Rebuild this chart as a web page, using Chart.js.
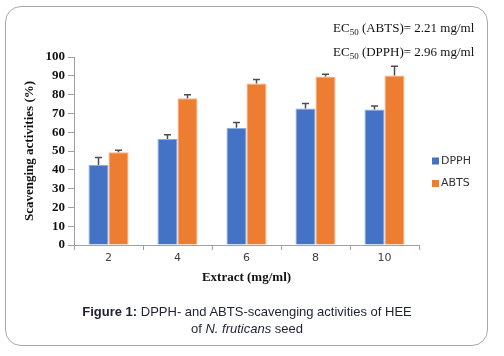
<!DOCTYPE html>
<html>
<head>
<meta charset="utf-8">
<script src="https://cdn.jsdelivr.net/npm/chart.js@4/dist/chart.umd.min.js"></script>
<style>
  html, body { margin: 0; padding: 0; background: #fff; }
  #wrap { position: relative; width: 504px; height: 356px; overflow: hidden; }
  #frame { position: absolute; left: 5px; top: 6px; width: 483px; height: 340px; border: 1px solid #a8a8a8; border-radius: 16px; box-sizing: border-box; }
  canvas { position: absolute; left: 0; top: 0; }
  .ec { position: absolute; left: 333px; font-family: "Liberation Serif", "Times New Roman", serif; font-size: 13px; color: #111; white-space: nowrap; line-height: 16px; }
  .ec sub { font-size: 9px; vertical-align: -3px; line-height: 0; }
  #caption { position: absolute; left: 0; width: 494px; top: 303px; text-align: center; font-family: "Liberation Sans", Arial, sans-serif; font-size: 13px; line-height: 17px; color: #1d2230; }
</style>
</head>
<body>
<div id="wrap">
  <canvas id="c" width="504" height="356"></canvas>
  <div id="frame"></div>
  <div class="ec" style="top:20px">EC<sub>50</sub> (ABTS)= 2.21 mg/ml</div>
  <div class="ec" style="top:44px">EC<sub>50</sub> (DPPH)= 2.96 mg/ml</div>
  <div id="caption"><b>Figure 1:</b> DPPH- and ABTS-scavenging activities of HEE<br>of <i>N. fruticans</i> seed</div>
</div>
<script>
const categories = ["2", "4", "6", "8", "10"];
const dpphValues = [42.5, 56.4, 62.4, 72.6, 72.1];
const abtsValues = [49.3, 78.1, 85.9, 89.6, 90.1];
const dpphErrors = [4.1, 2.3, 2.8, 2.7, 1.8];
const abtsErrors = [1.1, 1.8, 2.1, 1.2, 5.0];
const yTicks = [0, 10, 20, 30, 40, 50, 60, 70, 80, 90, 100];

const errorBars = {
  id: 'errorBars',
  afterDatasetsDraw(chart) {
    const ctx = chart.ctx;
    const yScale = chart.scales.y;
    ctx.save();
    ctx.strokeStyle = '#4d4d4d';
    ctx.lineWidth = 1.5;
    chart.data.datasets.forEach((ds, di) => {
      const meta = chart.getDatasetMeta(di);
      meta.data.forEach((bar, i) => {
        const v = ds.data[i];
        const e = ds.errors[i];
        const yTop = yScale.getPixelForValue(v + e);
        const yBar = yScale.getPixelForValue(v);
        ctx.beginPath();
        ctx.moveTo(bar.x, yBar);
        ctx.lineTo(bar.x, yTop);
        ctx.moveTo(bar.x - 3.5, yTop);
        ctx.lineTo(bar.x + 3.5, yTop);
        ctx.stroke();
      });
    });
    ctx.restore();
  }
};

const sideLegend = {
  id: 'sideLegend',
  afterDraw(chart) {
    const ctx = chart.ctx;
    ctx.save();
    ctx.font = '11px "DejaVu Sans", Verdana, sans-serif';
    ctx.textBaseline = 'middle';
    const ys = [160.5, 183];
    chart.data.datasets.forEach((ds, i) => {
      ctx.fillStyle = ds.backgroundColor;
      ctx.fillRect(432, ys[i] - 3, 7, 7);
      ctx.fillStyle = '#333';
      ctx.fillText(ds.label, 441, ys[i] + 0.5);
    });
    ctx.restore();
  }
};

new Chart(document.getElementById('c'), {
  type: 'bar',
  data: {
    labels: categories,
    datasets: [
      { label: 'DPPH', data: dpphValues, errors: dpphErrors, backgroundColor: '#4472C4', borderColor: '#8faadc', borderWidth: 1 },
      { label: 'ABTS', data: abtsValues, errors: abtsErrors, backgroundColor: '#ED7D31', borderColor: '#f4b183', borderWidth: 1 }
    ]
  },
  options: {
    responsive: false,
    animation: false,
    devicePixelRatio: 1,
    layout: { padding: { left: 0, right: 85, top: 57, bottom: 71 } },
    datasets: { bar: { categoryPercentage: 0.58, barPercentage: 1.0 } },
    plugins: { legend: { display: false }, tooltip: { enabled: false } },
    scales: {
      x: {
        afterFit(scale) { scale.height = 40; },
        grid: { display: true, drawOnChartArea: false, drawTicks: true, tickLength: 5, color: '#a0a0a0', offset: true },
        border: { display: true, color: '#a0a0a0' },
        ticks: { padding: 2, color: '#404040', font: { family: '"DejaVu Sans", Verdana, sans-serif', size: 11 } },
        title: { display: true, text: 'Extract (mg/ml)', color: '#111', padding: { top: 1, bottom: 0 }, font: { family: '"Liberation Serif", "Times New Roman", serif', size: 13, weight: 'bold' } }
      },
      y: {
        min: 0, max: 100,
        afterFit(scale) { scale.width = 74; },
        afterBuildTicks(scale) { scale.ticks = yTicks.map(v => ({ value: v })); },
        grid: { display: true, drawOnChartArea: false, drawTicks: true, tickLength: 6, color: '#a0a0a0' },
        border: { display: true, color: '#a0a0a0' },
        ticks: { padding: 3, color: '#111', font: { family: '"Liberation Serif", "Times New Roman", serif', size: 13, weight: 'bold' } },
        title: { display: true, text: 'Scavenging activities (%)', color: '#111', padding: { top: 22, bottom: 0 }, font: { family: '"Liberation Serif", "Times New Roman", serif', size: 13, weight: 'bold' } }
      }
    }
  },
  plugins: [errorBars, sideLegend]
});
</script>
</body>
</html>
